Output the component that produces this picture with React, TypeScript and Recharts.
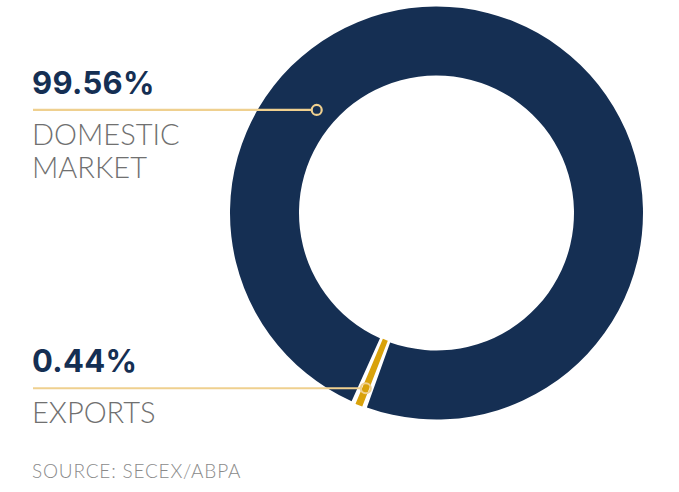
import React from "react";
import { PieChart, Pie, Cell } from "recharts";

const categories = ["Exports", "Domestic market"];
const shares = [0.44, 99.56];
const valueLabels = ["0.44%", "99.56%"];
const nameLines = [["EXPORTS"], ["DOMESTIC", "MARKET"]];
const sourceText = "SOURCE: SECEX/ABPA";

const NAVY = "#152f53";
const GOLD = "#d9a20b";
const LEADER = "#efd08f";

const data = categories.map((c, i) => ({ name: c, value: shares[i] }));

const renderLabel = (props: any) => {
  const { cx, cy, midAngle, index } = props;
  const RAD = Math.PI / 180;
  let ax: number, ay: number;
  if (index === 0) {
    const r = 189;
    ax = cx + r * Math.cos(-midAngle * RAD);
    ay = cy + r * Math.sin(-midAngle * RAD);
  } else {
    const ang = 139.3;
    const r = 158;
    ax = cx + r * Math.cos(-ang * RAD);
    ay = cy + r * Math.sin(-ang * RAD);
  }
  const x0 = 33;
  const lines = nameLines[index];
  return (
    <g key={"lbl" + index}>
      <text
        x={x0 - 1}
        y={ay - 16}
        fill={NAVY}
        fontFamily="Inter, 'Noto Sans', sans-serif"
        fontWeight={700}
        fontSize={31}
        letterSpacing={0.3}
      >
        {valueLabels[index]}
      </text>
      <line x1={x0} y1={ay} x2={ax - 5} y2={ay} stroke={LEADER} strokeWidth={2.2} />
      <circle cx={ax} cy={ay} r={5} fill="none" stroke={LEADER} strokeWidth={2.2} />
      {lines.map((l, i) => (
        <text
          key={i}
          x={x0 - 1}
          y={ay + 35 + i * 33}
          fill="#707070"
          fontFamily="Lato, 'Noto Sans', sans-serif"
          fontWeight={300}
          fontSize={29}
        >
          {l}
        </text>
      ))}
    </g>
  );
};

export default function App() {
  return (
    <div style={{ position: "absolute", left: 0, top: 0, width: 679, height: 492, background: "#fff" }}>
      <PieChart width={679} height={492} margin={{ top: 0, right: 0, bottom: 0, left: 0 }}>
        <Pie
          data={data}
          dataKey="value"
          nameKey="name"
          cx={436.5}
          cy={213}
          outerRadius={206.5}
          innerRadius={137.5}
          startAngle={248.8}
          endAngle={-111.2}
          paddingAngle={1.5}
          stroke="none"
          isAnimationActive={false}
          label={renderLabel}
          labelLine={false}
        >
          <Cell fill={GOLD} stroke={GOLD} strokeWidth={1.6} />
          <Cell fill={NAVY} />
        </Pie>
        <text
          x={32}
          y={478}
          fill="#8a8a8a"
          fontFamily="Lato, 'Noto Sans', sans-serif"
          fontWeight={300}
          fontSize={19}
          letterSpacing={0.8}
        >
          {sourceText}
        </text>
      </PieChart>
    </div>
  );
}
